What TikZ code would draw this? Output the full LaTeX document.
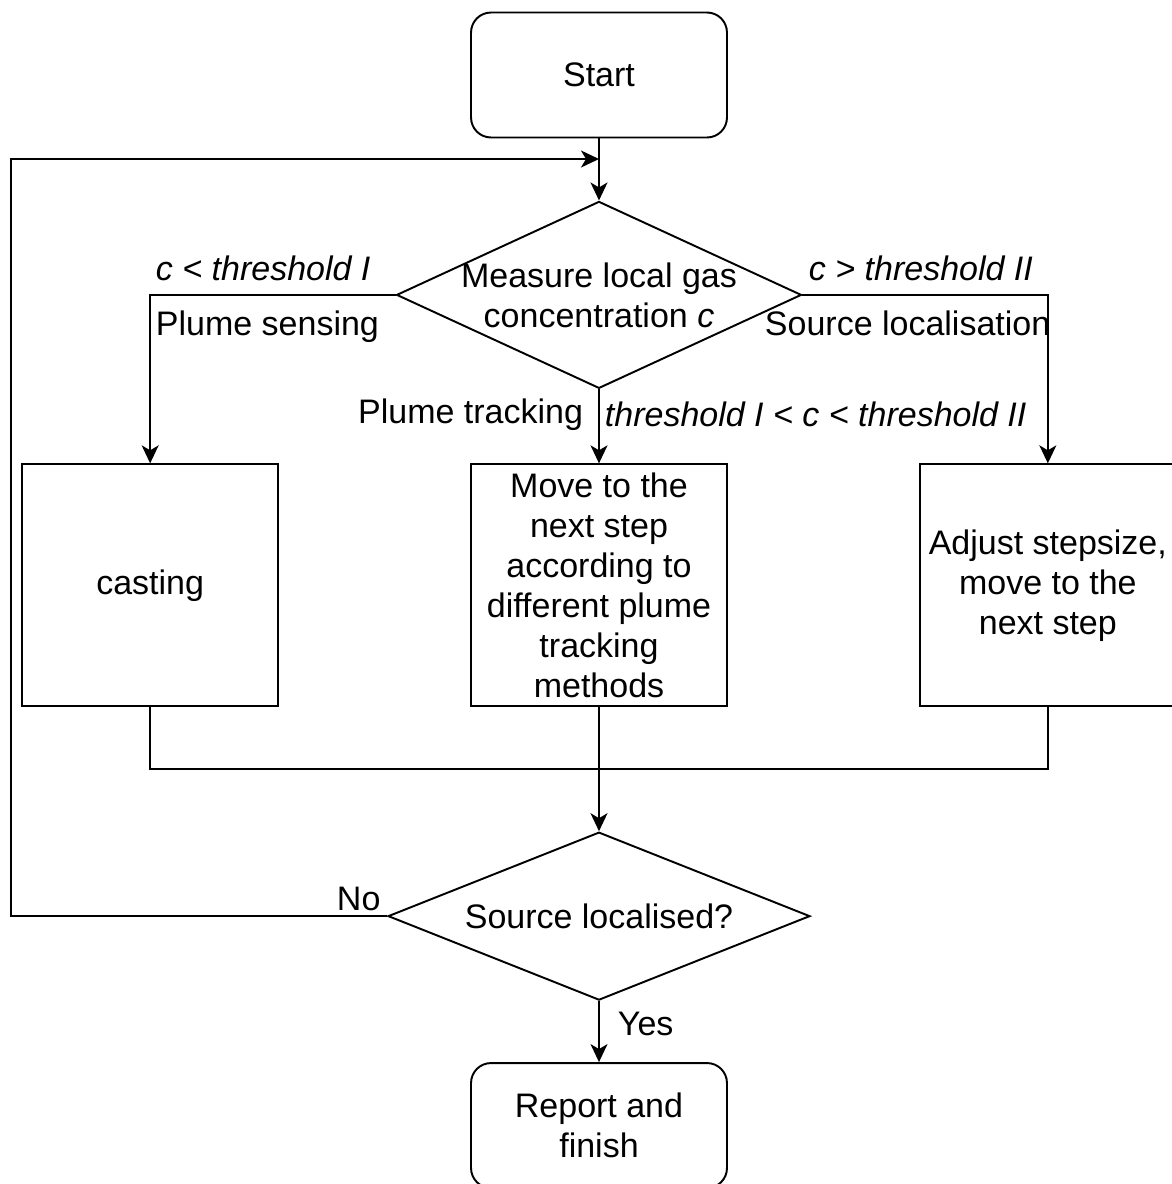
\documentclass[tikz,border=0pt]{standalone}
\usepackage{fontspec}
\setmainfont{Liberation Sans}
\usetikzlibrary{shapes.geometric,positioning,arrows.meta}

\begin{document}
\begin{tikzpicture}[x=0.02cm, y=-0.02cm, line width=1.1pt,
    every node/.style={font=\fontsize{19.35}{22.76}\selectfont},
    term/.style={draw, rounded corners=0.4cm, minimum width=5.12cm, minimum height=2.5cm, align=center, inner sep=0pt},
    proc/.style={draw, minimum width=5.12cm, minimum height=4.84cm, align=center, inner sep=0pt},
    decide/.style={draw, diamond, inner sep=0pt},
    arrow/.style={-{Stealth[length=0.36cm, width=0.34cm, inset=0.1cm]}},
    lbl/.style={inner sep=0pt}]
    \useasboundingbox (0,0) rectangle (1171,1184);
        \node[term] (start) at (599,75) {Start};
        \node[decide, minimum width=8.1cm, minimum height=3.74cm, below=1.24cm of start] (measure) {};
        \node[align=center] (measuretext) at (measure) {Measure local gas\\concentration \textit{c}};
        \node[proc, below=1.48cm of measure] (track) {Move to the\\next step\\according to\\different plume\\tracking\\methods};
        \node[proc, left=3.82cm of track] (casting) {casting};
        \node[proc, right=3.82cm of track] (adjust) {Adjust stepsize,\\move to the\\next step};
        \node[decide, minimum width=8.44cm, minimum height=3.36cm, below=2.48cm of track] (found) {};
        \node (foundtext) at (found) {Source localised?};
        \node[term, below=1.22cm of found] (report) {Report and\\finish};
        % edge labels
        \node[lbl, anchor=base west] (lowlbl) at (155,280) {\textit{c < threshold I}};
        \node[lbl, anchor=base west] (sensing) at (155,335) {Plume sensing};
        \node[lbl, anchor=base west] (highlbl) at (808,280) {\textit{c > threshold II}};
        \node[lbl, anchor=base west] (source) at (764,335) {Source localisation};
        \node[lbl, anchor=base east] (tracking) at (584,423) {Plume tracking};
        \node[lbl, anchor=base west] (midlbl) at (604,426) {\textit{threshold I < c < threshold II}};
        \node[lbl, anchor=base west] (no) at (336,910) {No};
        \node[lbl, anchor=base west] (yes) at (617,1035) {Yes};
        \coordinate (join) at (599,159);
        \coordinate (merge) at (599,769);
        \coordinate (back) at (11,0);
        \draw[arrow] (start) -- (measure);
        \draw[arrow] (measure.west) -| (casting);
        \draw[arrow] (measure.east) -| (adjust);
        \draw[arrow] (measure) -- (track);
        \draw (casting) |- (merge) -| (adjust);
        \draw[arrow] (track) -- (found);
        \draw[arrow] (found.west) -- (found.west -| back) |- (join);
        \draw[arrow] (found) -- (report);
    \end{tikzpicture}
\end{document}
